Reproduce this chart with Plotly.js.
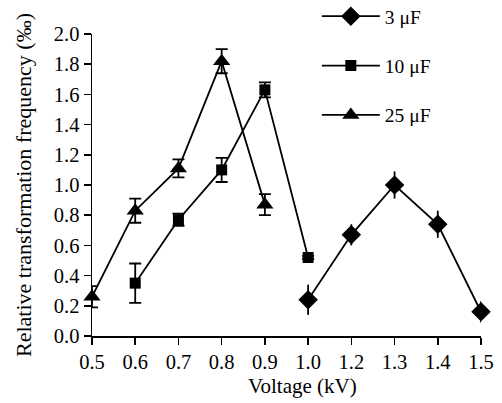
<!DOCTYPE html>
<html><head><meta charset="utf-8">
<script src="https://cdn.plot.ly/plotly-3.0.1.min.js"></script>
<style>html,body{margin:0;padding:0;background:#fff}#c{width:502px;height:403px}</style>
</head><body><div id="c"></div>
<script>
var categories = ['0.5','0.6','0.7','0.8','0.9','1.0','1.2','1.3','1.4','1.5'];

var x3 = ['1.0','1.2','1.3','1.4','1.5'];
var y3 = [0.24, 0.67, 1.00, 0.74, 0.16];
var e3 = [0.10, 0.07, 0.09, 0.09, 0.07];

var x10 = ['0.6','0.7','0.8','0.9','1.0'];
var y10 = [0.35, 0.77, 1.10, 1.63, 0.52];
var e10 = [0.13, 0.04, 0.08, 0.05, 0.01];

var x25 = ['0.5','0.6','0.7','0.8','0.9'];
var y25 = [0.26, 0.83, 1.11, 1.82, 0.87];
var e25 = [0.07, 0.08, 0.06, 0.08, 0.07];

var F = "'Liberation Serif', 'Times New Roman', serif";
function tr(x, y, e, name, sym, size, capw) {
  return {x: x, y: y, name: name, type: 'scatter', mode: 'lines+markers',
    legendgroup: name, cliponaxis: false,
    line: {color: '#000', width: 1.8},
    marker: {symbol: sym, size: size, color: '#000'},
    error_y: {type: 'data', array: e, visible: true, color: '#000', thickness: 1.8, width: capw}};
}
var data = [
  tr(x3, y3, e3, '3 μF', 'diamond', 15, 0),
  tr(x10, y10, e10, '10 μF', 'square', 11, 6),
  tr(x25, y25, e25, '25 μF', 'triangle-up', 15, 6)
];
var layout = {
  width: 502, height: 403,
  margin: {l: 92, r: 21, t: 34, b: 67, autoexpand: false},
  paper_bgcolor: '#fff', plot_bgcolor: '#fff',
  font: {family: F, size: 19, color: '#000'},
  showlegend: true,
  legend: {x: 0.578, y: 1.1225, xanchor: 'left', yanchor: 'top', bgcolor: 'rgba(0,0,0,0)',
    tracegroupgap: 21, itemwidth: 58, font: {family: F, size: 19.5}},
  xaxis: {type: 'category', categoryorder: 'array', categoryarray: categories,
    range: [0, 9], showgrid: false, zeroline: false, showline: true, linecolor: '#000', linewidth: 1.5,
    ticks: 'outside', ticklen: 7, tickwidth: 1.5, tickcolor: '#000', automargin: false,
    tickfont: {family: F, size: 20.5}},
  yaxis: {range: [0, 2.0], dtick: 0.2, tickformat: '.1f', showgrid: false, zeroline: false,
    showline: true, linecolor: '#000', linewidth: 1.5, automargin: false,
    ticks: 'outside', ticklen: 7, tickwidth: 1.5, tickcolor: '#000',
    tickfont: {family: F, size: 20.5},
    title: {text: 'Relative transformation frequency (‰)', font: {family: F, size: 22}, standoff: 16}},
  annotations: [{text: 'Voltage (kV)', xref: 'paper', yref: 'paper', x: 0.5424, y: -0.1656,
    xanchor: 'center', yanchor: 'middle', showarrow: false, font: {family: F, size: 21}}]
};
Plotly.newPlot('c', data, layout, {displayModeBar: false, staticPlot: true});
</script></body></html>
